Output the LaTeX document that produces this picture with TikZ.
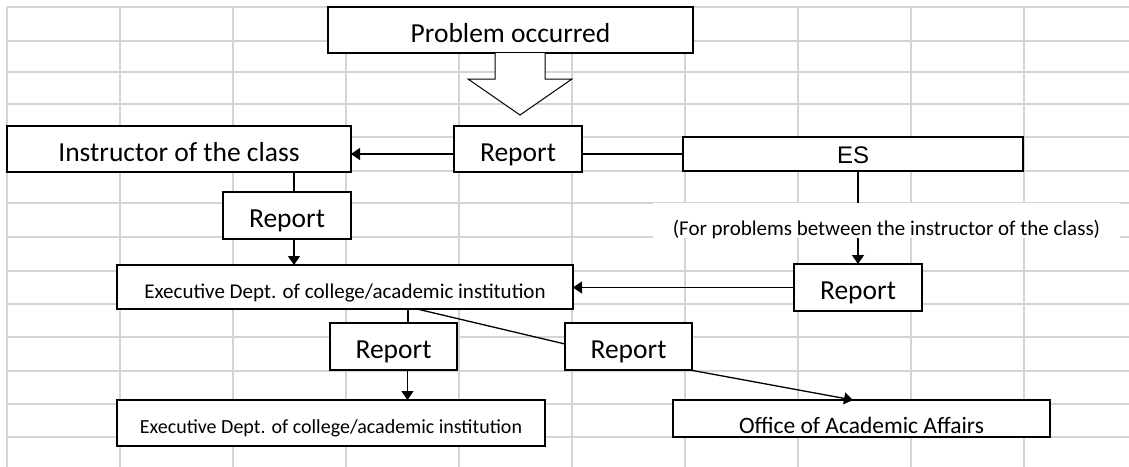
\documentclass[tikz,border=0pt]{standalone}
\usepackage{fontspec}
\setmainfont{Carlito}
\newfontfamily\arialf{Liberation Sans}
\usetikzlibrary{arrows.meta}
\definecolor{gridc}{RGB}{212,212,212}
\begin{document}
\begin{tikzpicture}[x=1pt,y=-1pt,
  box/.style={draw=black, line width=1.6pt, fill=white, inner sep=0pt, outer sep=0pt, align=center},
  bl/.style={text height=#1, text depth=0pt},
  big/.style={font=\fontsize{27.5}{33}\selectfont},
  small/.style={font=\fontsize{21}{25}\selectfont},
  conn/.style={line width=1.3pt},
  arr/.style={conn, -{Triangle[width=12pt,length=9pt]}},
  gridl/.style={draw=gridc, line width=1.6pt}]
\useasboundingbox (0,0) rectangle (1129,466);
\begin{scope}
\clip (0,0) rectangle (1129,466);
\foreach \x in {7,120,...,1024} \draw[gridl] (\x,7) -- (\x,467);
\foreach \y in {7,41,72,104,137,171,203,237,271,304,337,371,404,437} \draw[gridl] (7,\y) -- (1130,\y);
\end{scope}

% boxes
\node[box,big,bl=24pt,minimum width=365pt,minimum height=46pt] (prob) at (510.5,30) {Problem occurred};
\node[box,big,bl=24pt,minimum width=344pt,minimum height=46pt] (instr) at (179,149) {Instructor of the class};
\node[box,big,bl=24pt,minimum width=128pt,minimum height=46pt] (rep1) at (518,149) {Report};
\node[box,line width=2.6pt,font=\arialf\fontsize{24}{28}\selectfont,bl=18pt,minimum width=340pt,minimum height=34pt] (es) at (853,154) {ES};
\node[box,big,bl=24pt,minimum width=128pt,minimum height=47pt] (rep2) at (287,215.5) {Report};
\node[box,small,bl=22pt,minimum width=456pt,minimum height=44pt] (exec1) at (345,287) {Executive Dept. of college/academic institution};
\node[box,big,bl=24pt,minimum width=128pt,minimum height=47pt] (rep3) at (858,287.5) {Report};
\node[box,big,bl=24pt,minimum width=127pt,minimum height=47pt] (rep4) at (393.5,346.5) {Report};
\node[box,big,bl=24pt,minimum width=127pt,minimum height=47pt] (rep5) at (628.5,346.5) {Report};
\node[box,font=\fontsize{20}{24}\selectfont,bl=20pt,minimum width=428pt,minimum height=46pt] (exec2) at (331,423) {Executive Dept. of college/academic institution};
\node[box,font=\fontsize{23.5}{28}\selectfont,bl=29pt,minimum width=377pt,minimum height=37pt] (office) at (861.5,418.5) {Office of Academic Affairs};

% hollow arrow
\draw[line width=1pt, fill=white] ([xshift=-15.5pt]prob.south) -- ++(0,26) -- ++(-27,0) -- ++(52,36) -- ++(52,-36) -- ++(-27,0) -- ([xshift=34.5pt]prob.south);

% connectors
\draw[arr] (es.south -| rep3.north) -- (rep3.north);
\node[fill=white, inner sep=0pt, small, bl=29pt, minimum width=467pt, minimum height=35pt] (note) at (886.5,220.5) {(For problems between the instructor of the class)};

\draw[arr] (rep1.west |- es.west) -- (instr.east |- es.west);
\draw[conn] (rep1.east |- es.west) -- (es.west);
\draw[conn] ([xshift=7pt]rep2.north) -- ([xshift=7pt]rep2.north |- instr.south);
\draw[arr] ([xshift=7pt]rep2.south) -- ([xshift=7pt]rep2.south |- exec1.north);
\draw[arr] (rep3.west) -- (rep3.west -| exec1.east);
\draw[conn] ([xshift=14.5pt]rep4.north) -- ([xshift=14.5pt]rep4.north |- exec1.south);
\draw[arr] ([xshift=14pt]rep4.south) -- ([xshift=14pt]rep4.south |- exec2.north);
\draw[conn] ([xshift=72pt]exec1.south) -- ([yshift=2.5pt]rep5.west);
\draw[arr] ([xshift=-2pt]rep5.south east) -- ([xshift=-8.5pt]office.north);
\end{tikzpicture}
\end{document}
